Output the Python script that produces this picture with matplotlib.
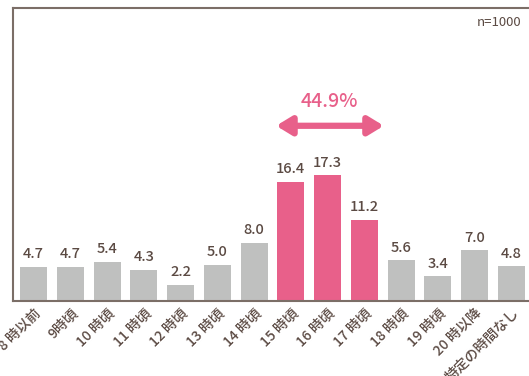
import matplotlib.pyplot as plt
from matplotlib.transforms import ScaledTranslation

plt.rcParams['font.family'] = ['Noto Sans CJK JP', 'DejaVu Sans']

categories = ['8 時以前', '9時頃', '10 時頃', '11 時頃', '12 時頃', '13 時頃', '14 時頃',
              '15 時頃', '16 時頃', '17 時頃', '18 時頃', '19 時頃', '20 時以降', '特定の時間なし']
values = [4.7, 4.7, 5.4, 4.3, 2.2, 5.0, 8.0, 16.4, 17.3, 11.2, 5.6, 3.4, 7.0, 4.8]
highlight = [7, 8, 9]
total_label = '44.9%'
n_label = 'n=1000'

gray = '#bfc0bf'
pink = '#e8608a'
text_col = '#5b4a43'
spine_col = '#7b6e67'

fig = plt.figure(figsize=(5.29, 3.76), dpi=100)
ax = fig.add_axes([13 / 529, 1 - 301 / 376, 516 / 529, 293 / 376])

x = list(range(len(values)))
colors = [pink if i in highlight else gray for i in x]
ax.bar(x, values, width=0.73, color=colors, zorder=2)

for i, v in zip(x, values):
    ax.annotate(f'{v:.1f}', (i, v), xytext=(0, 4), textcoords='offset points',
                ha='center', va='bottom', fontsize=10.5, color=text_col, fontweight='medium')

ax.set_xlim(-0.56, 13.48)
ax.set_ylim(0, 40.3)

# bracket arrow over the highlighted hours
ax.annotate('', xy=(6.6, 24.1), xytext=(9.53, 24.1),
            arrowprops=dict(arrowstyle='<|-|>,head_length=0.9,head_width=0.55',
                            color=pink, lw=4.5, shrinkA=0, shrinkB=0))
ax.text(8.05, 27.5, total_label, ha='center', va='center', fontsize=14,
        color=pink, fontweight='medium')

ax.text(0.985, 0.95, n_label, transform=ax.transAxes, ha='right', va='center',
        fontsize=9.5, color=text_col)

ax.set_xticks(x)
ax.set_xticklabels(categories, rotation=45, ha='right', rotation_mode='anchor',
                   fontsize=10, color=text_col, fontweight='medium')
offset = ScaledTranslation(5 / 72, -6 / 72, fig.dpi_scale_trans)
for lbl in ax.get_xticklabels():
    lbl.set_transform(lbl.get_transform() + offset)
ax.tick_params(axis='x', length=0)
ax.set_yticks([])

for side in ['left', 'top', 'bottom']:
    ax.spines[side].set_color(spine_col)
    ax.spines[side].set_linewidth(1.5)
ax.spines['right'].set_visible(False)

fig.savefig('out.png', dpi=100)
